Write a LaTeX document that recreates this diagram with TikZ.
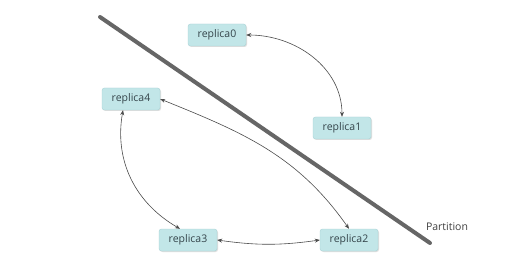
\documentclass[tikz,border=0pt]{standalone}
\usepackage{fontspec}
\setmainfont{Open Sans}
\usetikzlibrary{arrows.meta,shadows}
\definecolor{replicafill}{HTML}{C2E6E8}
\definecolor{replicaline}{HTML}{A9D3D6}
\definecolor{replicatext}{HTML}{34444A}
\begin{document}
\begin{tikzpicture}[x=1pt,y=-1pt]
  \tikzset{replica node/.style={rectangle, rounded corners=2.5pt, draw=replicaline, fill=replicafill,
      text=replicatext, font=\fontsize{10.5}{12}\selectfont, minimum width=58pt, minimum height=22pt,
      inner sep=2pt, drop shadow={shadow xshift=1pt, shadow yshift=-1pt, fill=black!25}},
    link/.style={{Stealth[length=5pt,width=4pt]}-{Stealth[length=5pt,width=4pt]}, draw=black!70, line width=0.6pt}}
  \useasboundingbox[fill=white] (0,0) rectangle (521,272);
  % the partition line
  \draw[line width=4pt, black!60, line cap=round] (100,17) -- (430,243);
  \node[text=black!75, font=\fontsize{10.5}{12}\selectfont] (partition) at (447,227) {Partition};
  % replicas
  \node[replica node] (r0) at (217,35) {replica0};
  \node[replica node] (r1) at (342,128) {replica1};
  \node[replica node] (r4) at (131,99) {replica4};
  \node[replica node] (r3) at (188,240) {replica3};
  \node[replica node] (r2) at (349,240) {replica2};
  % links
  \draw[link] (r0.east) to[out=0, in=90] (r1.north);
  \draw[link] (r4.east) to[out=-22, in=125] (r2.north);
  \draw[link] ([xshift=-8pt]r4.south) to[out=-100, in=150] ([xshift=-8pt]r3.north);
  \draw[link] (r3.east) to[bend right=8] (r2.west);
\end{tikzpicture}
\end{document}
